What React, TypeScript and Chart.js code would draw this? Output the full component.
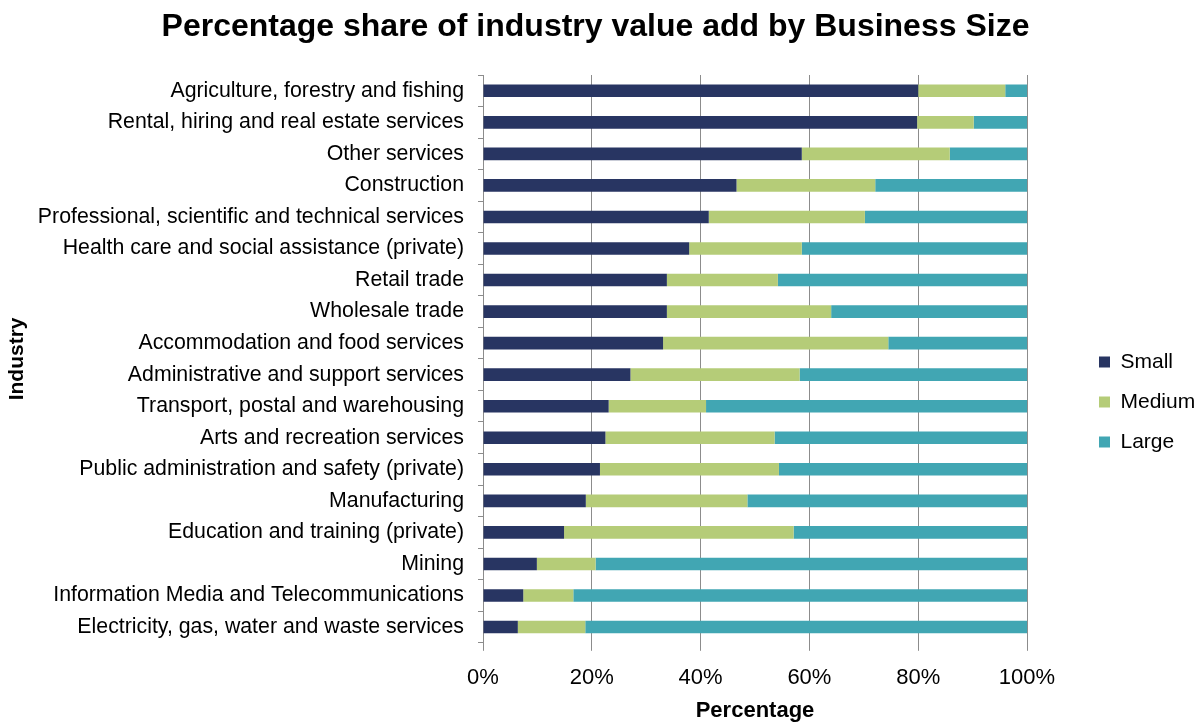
import React, { useEffect, useRef } from "react";
import { Chart, registerables } from "chart.js";

Chart.register(...registerables);

const categories = [
  "Agriculture, forestry and fishing",
  "Rental, hiring and real estate services",
  "Other services",
  "Construction",
  "Professional, scientific and technical services",
  "Health care and social assistance (private)",
  "Retail trade",
  "Wholesale trade",
  "Accommodation and food services",
  "Administrative and support services",
  "Transport, postal and warehousing",
  "Arts and recreation services",
  "Public administration and safety (private)",
  "Manufacturing",
  "Education and training (private)",
  "Mining",
  "Information Media and Telecommunications",
  "Electricity, gas, water and waste services",
];

const small = [80.0, 79.8, 58.6, 46.6, 41.5, 37.9, 33.8, 33.8, 33.1, 27.1, 23.1, 22.5, 21.5, 18.9, 14.9, 9.9, 7.4, 6.4];
const medium = [16.0, 10.4, 27.2, 25.5, 28.7, 20.7, 20.4, 30.2, 41.4, 31.1, 17.9, 31.1, 32.9, 29.7, 42.2, 10.8, 9.2, 12.4];
const large = [4.0, 9.8, 14.2, 27.9, 29.8, 41.4, 45.8, 36.0, 25.5, 41.8, 59.0, 46.4, 45.6, 51.4, 42.9, 79.3, 83.4, 81.2];

const seriesNames = ["Small", "Medium", "Large"];
const seriesColors = ["#283562", "#B5CC78", "#41A6B3"];

const FONT = "'Liberation Sans', Arial, sans-serif";

// Reserve a fixed-width area for the legend on the right and place its items.
const LEGEND_WIDTH = 164;
const LEGEND_GAP = 72;
const LEGEND_PAD = 19;
const LEGEND_DROP = 40;
const legendPlacer = {
  id: "legendPlacer",
  beforeLayout(chart: any) {
    const lg = chart.legend;
    if (lg && !lg.__patched) {
      const origFit = lg.fit;
      lg.fit = function () {
        origFit.call(this);
        this.width = LEGEND_WIDTH;
      };
      lg.__patched = true;
    }
  },
  afterLayout(chart: any) {
    const lg = chart.legend;
    if (!lg) return;
    lg.left = chart.chartArea.right + LEGEND_GAP - LEGEND_PAD;
    lg.right = lg.left + LEGEND_WIDTH;
    lg.top += LEGEND_DROP;
    lg.bottom += LEGEND_DROP;
  },
};

export default function App() {
  const ref = useRef<HTMLCanvasElement | null>(null);
  useEffect(() => {
    if (!ref.current) return;
    const seriesData = [small, medium, large];
    const chart = new Chart(ref.current, {
      type: "bar",
      data: {
        labels: categories,
        datasets: seriesNames.map((name, i) => ({
          label: name,
          data: seriesData[i],
          backgroundColor: seriesColors[i],
          borderWidth: 0,
          barPercentage: 0.4,
          categoryPercentage: 1,
        })),
      },
      plugins: [legendPlacer],
      options: {
        indexAxis: "y",
        responsive: false,
        animation: false,
        layout: { padding: { left: 0, right: 10, top: 0, bottom: 0 } },
        plugins: {
          title: {
            display: true,
            text: "Percentage share of industry value add by Business Size",
            color: "#000",
            font: { family: FONT, size: 32, weight: "bold" },
            padding: { top: 8, bottom: 28.6 },
          },
          legend: {
            position: "right",
            labels: {
              color: "#000",
              font: { family: FONT, size: 21 },
              boxWidth: 11,
              boxHeight: 11,
              padding: LEGEND_PAD,
            },
          },
          tooltip: { enabled: false },
        },
        scales: {
          x: {
            stacked: true,
            min: 0,
            max: 100,
            ticks: {
              stepSize: 20,
              color: "#000",
              font: { family: FONT, size: 22 },
              padding: 13.5,
              callback: (v: any) => v + "%",
            },
            grid: { color: "#8C8C8C", lineWidth: 1, tickLength: 8 },
            border: { display: false },
            title: {
              display: true,
              text: "Percentage",
              color: "#000",
              font: { family: FONT, size: 22, weight: "bold" },
              padding: { top: -6.6, bottom: 0 },
            },
          },
          y: {
            stacked: true,
            ticks: {
              color: "#000",
              font: { family: FONT, size: 21.3 },
              padding: 14,
              autoSkip: false,
            },
            grid: { drawOnChartArea: false, color: "#8C8C8C", tickLength: 5 },
            border: { color: "#8C8C8C" },
            title: {
              display: true,
              text: "Industry",
              color: "#000",
              font: { family: FONT, size: 21, weight: "bold" },
              padding: { top: 5, bottom: 0 },
            },
            afterFit: (scale: any) => {
              scale.width = 483;
            },
          },
        },
      },
    });
    return () => chart.destroy();
  }, []);
  return (
    <div style={{ position: "fixed", left: 0, top: 0, width: 1201, height: 724, background: "#fff" }}>
      <canvas ref={ref} width={1201} height={724} />
    </div>
  );
}
